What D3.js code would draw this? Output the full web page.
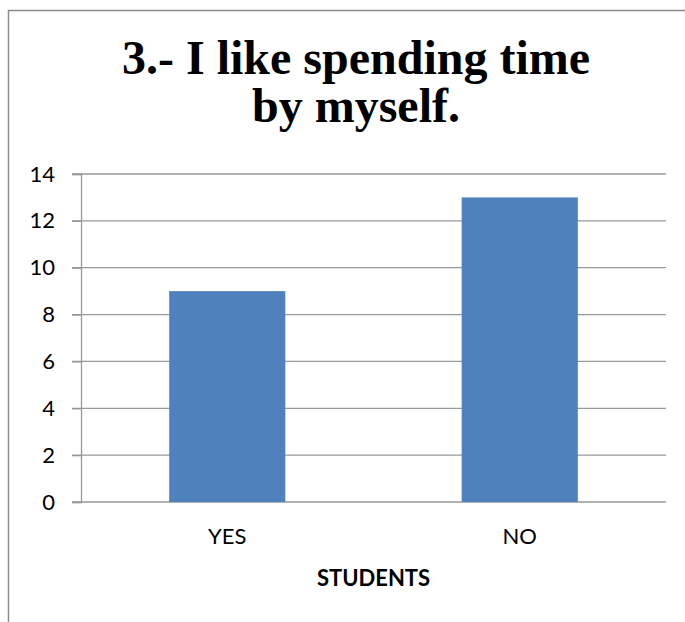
<!DOCTYPE html>
<html>
<head>
<meta charset="utf-8">
<script src="https://cdn.jsdelivr.net/npm/d3@7"></script>
<style>
  html, body { margin: 0; padding: 0; background: #fff; }
  svg { display: block; }
</style>
</head>
<body>
<div id="chart"></div>
<script>
// Survey answers for question 3
const categories = ["YES", "NO"];
const students = [9, 13];
const yTicks = [0, 2, 4, 6, 8, 10, 12, 14];
const titleLines = ["3.- I like spending time", "by myself."];
const xAxisTitle = "STUDENTS";

const W = 685, H = 622;
const plot = { left: 81, right: 666, top: 174, bottom: 502 };

const svg = d3.select("#chart").append("svg")
  .attr("width", W).attr("height", H);

// chart frame (top and left edges visible)
svg.append("path")
  .attr("d", `M8.5,${H} L8.5,10.5 L${W},10.5`)
  .attr("fill", "none")
  .attr("stroke", "#8c8c8c")
  .attr("stroke-width", 1.5);

// title, two lines
svg.append("g")
  .selectAll("text")
  .data(titleLines)
  .join("text")
  .attr("x", 356)
  .attr("y", (d, i) => 74 + i * 48)
  .attr("text-anchor", "middle")
  .attr("font-family", "'Liberation Serif', 'Times New Roman', serif")
  .attr("font-weight", "bold")
  .attr("font-size", 48)
  .attr("fill", "#000")
  .text(d => d);

const y = d3.scaleLinear().domain([0, 14]).range([plot.bottom, plot.top]);
const x = d3.scaleBand()
  .domain(categories)
  .range([plot.left, plot.right])
  .paddingInner(0.603)
  .paddingOuter(0.3015);

// horizontal gridlines
svg.append("g")
  .selectAll("line")
  .data(yTicks)
  .join("line")
  .attr("x1", plot.left - 9)
  .attr("x2", plot.right)
  .attr("y1", d => y(d))
  .attr("y2", d => y(d))
  .attr("stroke", "#999")
  .attr("stroke-width", 1.3);

// bars
svg.append("g")
  .selectAll("rect")
  .data(categories.map((c, i) => ({ c, v: students[i] })))
  .join("rect")
  .attr("x", d => x(d.c))
  .attr("width", x.bandwidth())
  .attr("y", d => y(d.v))
  .attr("height", d => y(0) - y(d.v))
  .attr("fill", "#4F81BD");

// y axis
const yAxis = svg.append("g")
  .attr("transform", `translate(${plot.left},0)`)
  .call(d3.axisLeft(y).tickValues(yTicks).tickSize(9).tickPadding(17).tickFormat(d3.format("d")));
yAxis.select(".domain").attr("stroke", "#999").attr("stroke-width", 1.3);
yAxis.selectAll(".tick line").attr("stroke", "#999").attr("stroke-width", 1.3);
yAxis.selectAll("text")
  .attr("font-family", "Lato, Carlito, Calibri, sans-serif")
  .attr("font-size", 22)
  .attr("fill", "#000");

// x axis labels
const xAxis = svg.append("g")
  .attr("transform", `translate(0,${plot.bottom})`)
  .call(d3.axisBottom(x).tickSize(0).tickPadding(26));
xAxis.select(".domain").remove();
xAxis.selectAll("text")
  .attr("font-family", "Lato, Carlito, Calibri, sans-serif")
  .attr("font-size", 22)
  .attr("fill", "#000");

// x axis title
svg.append("text")
  .attr("x", (plot.left + plot.right) / 2)
  .attr("y", 586)
  .attr("text-anchor", "middle")
  .attr("font-family", "Lato, Carlito, Calibri, sans-serif")
  .attr("font-weight", "bold")
  .attr("font-size", 22)
  .attr("fill", "#000")
  .text(xAxisTitle);
</script>
</body>
</html>
